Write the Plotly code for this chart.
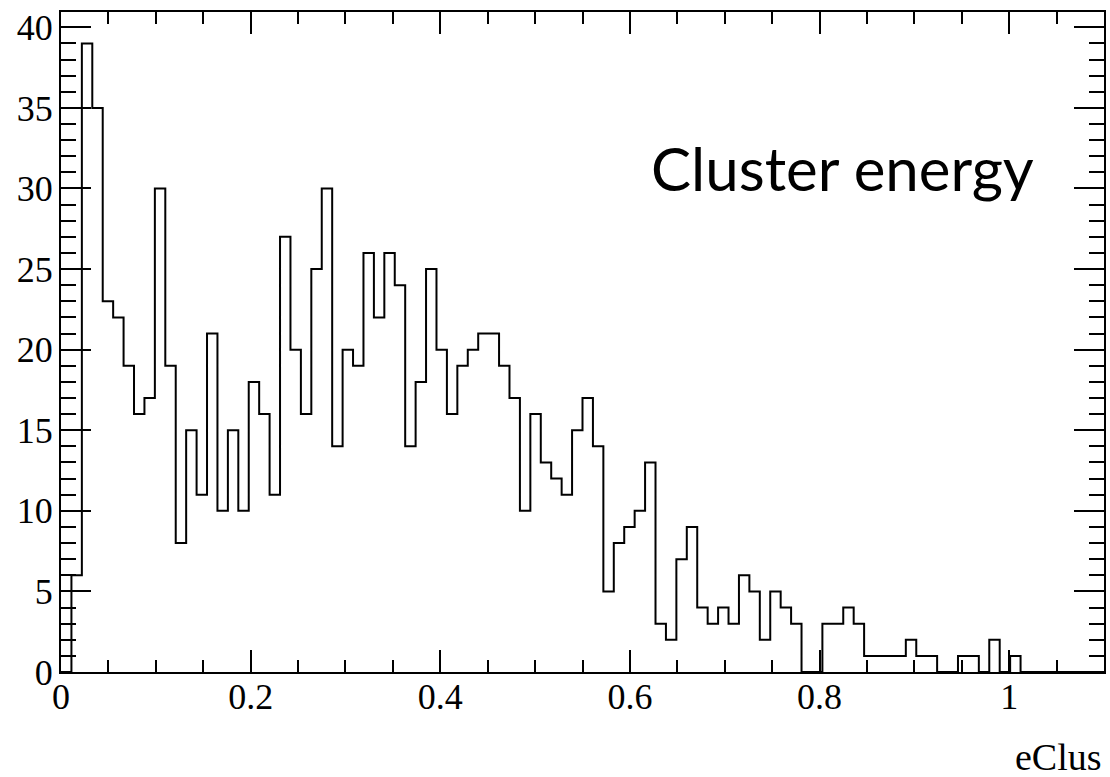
import plotly.graph_objects as go

# Histogram binning (ROOT TTree::Draw default: 100 bins)
bin_lo = 0.0
bin_width = 0.011

# Bin contents
counts = [
    0, 6, 39, 35, 23, 22, 19, 16, 17, 30,
    19, 8, 15, 11, 21, 10, 15, 10, 18, 16,
    11, 27, 20, 16, 25, 30, 14, 20, 19, 26,
    22, 26, 24, 14, 18, 25, 20, 16, 19, 20,
    21, 21, 19, 17, 10, 16, 13, 12, 11, 15,
    17, 14, 5, 8, 9, 10, 13, 3, 2, 7,
    9, 4, 3, 4, 3, 6, 5, 2, 5, 4,
    3, 0, 0, 3, 3, 4, 3, 1, 1, 1,
    1, 2, 1, 1, 0, 0, 1, 1, 0, 2,
    0, 1, 0, 0, 0, 0, 0, 0, 0, 0,
]

x_ticks = [0, 0.2, 0.4, 0.6, 0.8, 1]
y_ticks = [0, 5, 10, 15, 20, 25, 30, 35, 40]

x_title = "eClus"
label_text = "Cluster energy"

n = len(counts)
edges = [bin_lo + i * bin_width for i in range(n + 1)]
x_max = edges[-1]
y_max = max(counts) * 1.05

step_x = edges
step_y = counts + [counts[-1]]

fig = go.Figure()
fig.add_trace(go.Scatter(
    x=step_x, y=step_y, mode="lines", line_shape="hv",
    line=dict(color="black", width=2), cliponaxis=True,
    hoverinfo="skip", showlegend=False,
))

W, H = 1110, 777
ml, mr, mt, mb = 61, 4, 12, 105

tickfont = dict(family="Liberation Serif, Times New Roman, serif", size=36, color="black")

fig.update_layout(
    width=W, height=H,
    margin=dict(l=ml, r=mr, t=mt, b=mb, pad=0),
    paper_bgcolor="white", plot_bgcolor="white",
    showlegend=False,
)

fig.update_xaxes(
    range=[0, x_max], tickvals=x_ticks, ticktext=[str(v) for v in x_ticks],
    ticks="inside", ticklen=22, tickwidth=2, tickcolor="black",
    minor=dict(ticks="inside", ticklen=12, tickwidth=2, tickcolor="black", dtick=0.05, showgrid=False),
    showline=True, linecolor="black", linewidth=2, mirror="ticks",
    showgrid=False, zeroline=False, tickfont=tickfont,
    ticklabelstandoff=-8,
)
fig.update_yaxes(
    range=[0, y_max], tickvals=y_ticks, ticktext=[str(v) for v in y_ticks],
    ticks="inside", ticklen=30, tickwidth=2, tickcolor="black",
    minor=dict(ticks="inside", ticklen=15, tickwidth=2, tickcolor="black", dtick=1, showgrid=False),
    showline=True, linecolor="black", linewidth=2, mirror="ticks",
    showgrid=False, zeroline=False, tickfont=tickfont,
    ticklabelstandoff=-1,
)

plot_h = H - mt - mb
fig.add_annotation(
    text=x_title, xref="paper", yref="paper", x=1.0, y=-(757 - (H - mb)) / plot_h,
    xanchor="right", yanchor="middle", showarrow=False,
    font=dict(family="Liberation Serif, Times New Roman, serif", size=38, color="black"),
)
fig.add_annotation(
    text=label_text, xref="paper", yref="paper", x=(844 - ml) / (W - ml - mr),
    y=((H - mb) - 168) / plot_h,
    xanchor="center", yanchor="middle", showarrow=False,
    font=dict(family="Lato, Open Sans, sans-serif", size=60, color="black"),
)

fig.write_html("out.html")
